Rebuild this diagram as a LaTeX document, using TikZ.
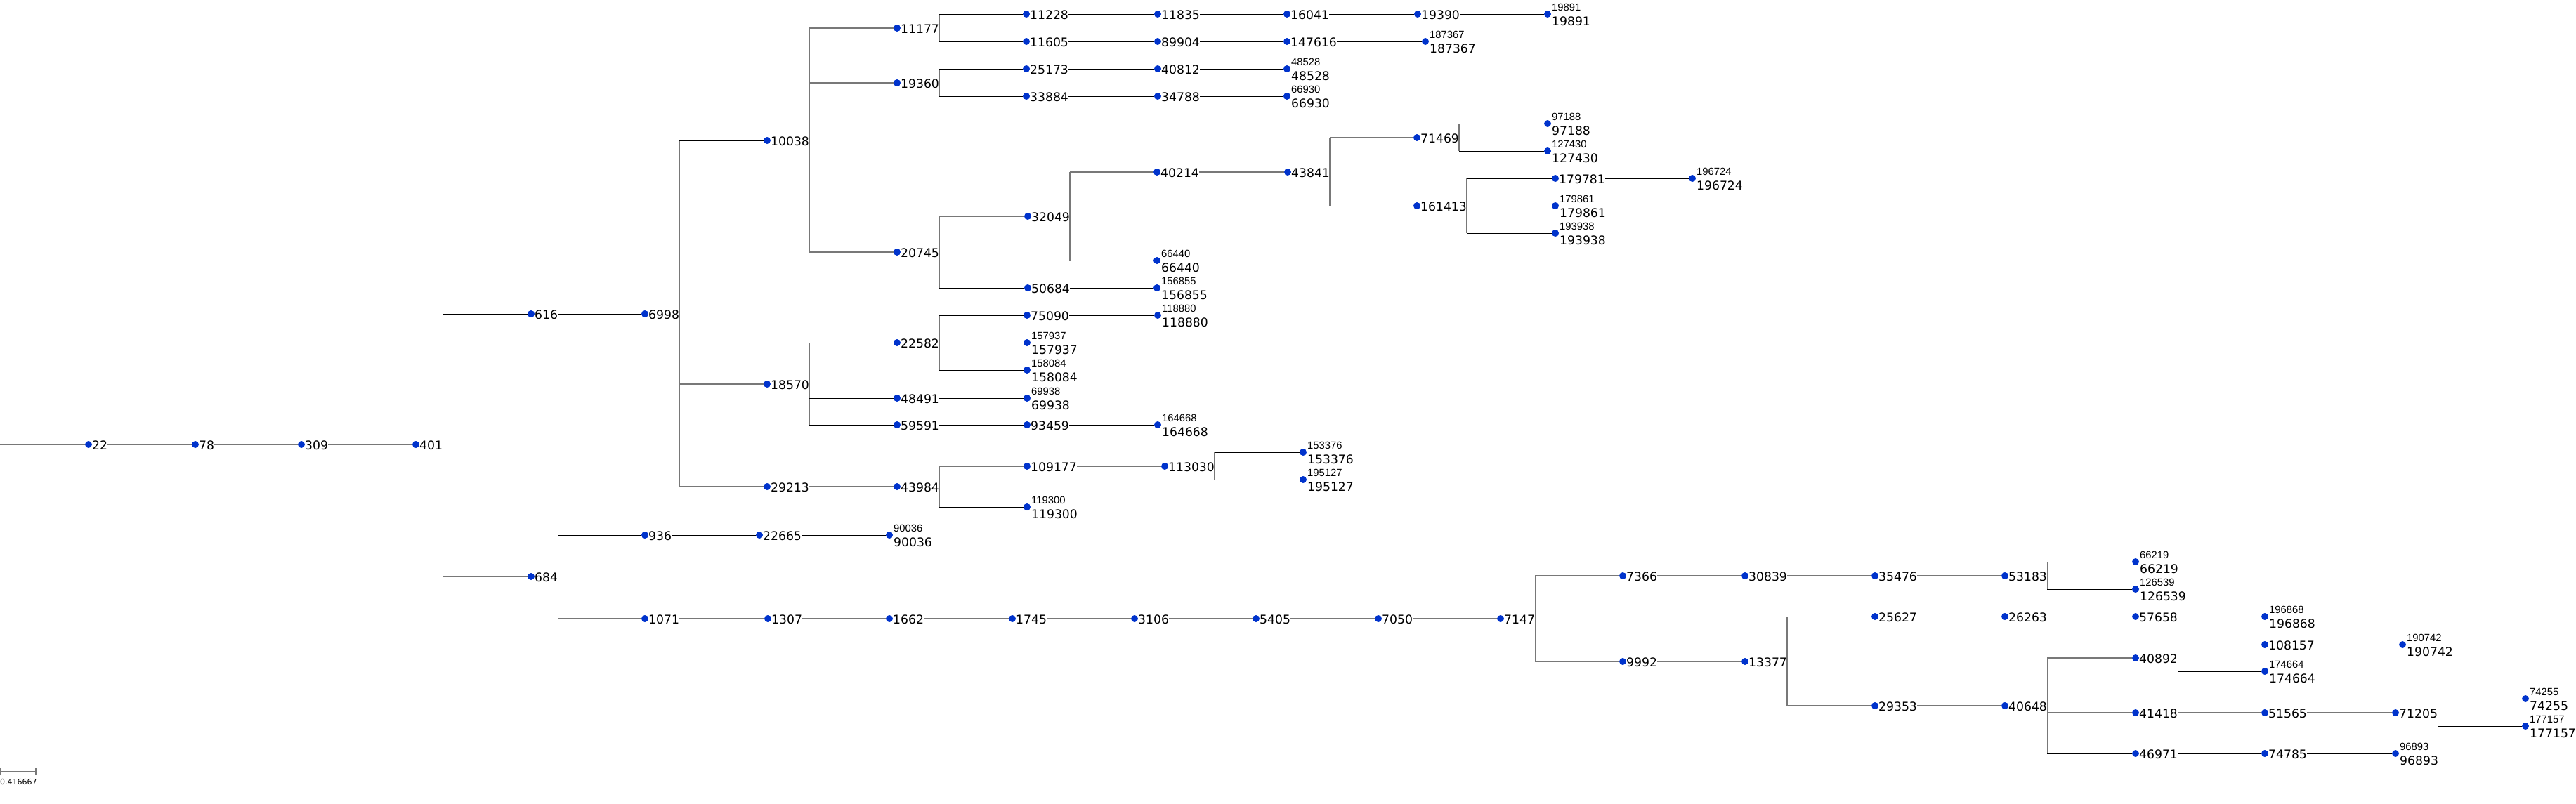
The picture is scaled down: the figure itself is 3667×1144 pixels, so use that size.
\documentclass[tikz,border=0pt]{standalone}
\usepackage{fontspec}
\setmainfont{DejaVu Sans}
\newfontfamily\lsfont{Liberation Sans}
\definecolor{dotblue}{RGB}{0,51,204}
\definecolor{linegray}{RGB}{120,120,120}
\newcommand\innode[3]{\node[dot] (n#1) at (#2,#3) {}; \node[lab] (t#1) at (#2+5,#3+7.5) {#1};}
\newcommand\lfnode[3]{\node[dot] (n#1) at (#2,#3) {}; \node[slab] (s#1) at (#2+6,#3-5) {#1}; \node[lab] (t#1) at (#2+6,#3+16.5) {#1};}
\newcommand\conn[3]{\draw[#1] (t#2.east |- n#3) -- (n#3);}
\newcommand\vbar[3]{\draw[vl] (t#1.east |- n#2) -- (t#1.east |- n#3);}
\begin{document}
\begin{tikzpicture}[x=1pt,y=-1pt,
 dot/.style={circle,fill=dotblue,inner sep=0,minimum size=10pt},
 lab/.style={anchor=base west,inner sep=0,font=\fontsize{17.2}{17.2}\selectfont},
 slab/.style={anchor=base west,inner sep=0,font=\lsfont\fontsize{14.8}{14.8}\selectfont},
 gl/.style={draw=linegray,line width=1.7pt},
 bl/.style={draw=black,line width=0.9pt},
 vl/.style={draw=linegray,line width=1.3pt}]
\useasboundingbox (0,0) rectangle (3667,1144);
% ---------- nodes ----------
\coordinate (start) at (0,633);
\innode{22}{126}{633}
\innode{78}{278}{633}
\innode{309}{429}{633}
\innode{401}{592}{633}
\innode{616}{756}{447}
\innode{684}{756}{821}
\innode{6998}{918}{447}
\innode{10038}{1092}{200}
\innode{18570}{1092}{547}
\innode{29213}{1092}{693}
\innode{11177}{1277}{40}
\innode{19360}{1277}{118}
\innode{20745}{1277}{359}
\innode{22582}{1277}{488}
\innode{48491}{1277}{567}
\innode{59591}{1277}{605}
\innode{43984}{1277}{693}
\innode{11228}{1461}{20}
\innode{11605}{1461}{59}
\innode{11835}{1648}{20}
\innode{89904}{1648}{59}
\innode{16041}{1832}{20}
\innode{147616}{1832}{59}
\innode{19390}{2018}{20}
\lfnode{187367}{2029}{59}
\lfnode{19891}{2203}{20}
\innode{25173}{1461}{98}
\innode{33884}{1461}{137}
\innode{40812}{1648}{98}
\innode{34788}{1648}{137}
\lfnode{48528}{1832}{98}
\lfnode{66930}{1832}{137}
\innode{32049}{1463}{308}
\innode{50684}{1463}{410}
\innode{40214}{1647}{245}
\lfnode{66440}{1647}{371}
\innode{43841}{1833}{245}
\innode{71469}{2017}{196}
\innode{161413}{2017}{293}
\lfnode{97188}{2203}{176}
\lfnode{127430}{2203}{215}
\innode{179781}{2214}{254}
\lfnode{179861}{2214}{293}
\lfnode{193938}{2214}{332}
\lfnode{196724}{2409}{254}
\lfnode{156855}{1647}{410}
\innode{75090}{1462}{449}
\lfnode{157937}{1462}{488}
\lfnode{158084}{1462}{527}
\lfnode{118880}{1648}{449}
\lfnode{69938}{1462}{567}
\innode{93459}{1462}{605}
\lfnode{164668}{1648}{605}
\innode{109177}{1462}{664}
\lfnode{119300}{1462}{722}
\innode{113030}{1658}{664}
\lfnode{153376}{1855}{644}
\lfnode{195127}{1855}{683}
\innode{936}{918}{762}
\innode{22665}{1081}{762}
\lfnode{90036}{1266}{762}
\innode{1071}{918}{881}
\innode{1307}{1093}{881}
\innode{1662}{1266}{881}
\innode{1745}{1441}{881}
\innode{3106}{1615}{881}
\innode{5405}{1788}{881}
\innode{7050}{1962}{881}
\innode{7147}{2136}{881}
\innode{7366}{2310}{820}
\innode{30839}{2484}{820}
\innode{35476}{2669}{820}
\innode{53183}{2854}{820}
\lfnode{66219}{3040}{800}
\lfnode{126539}{3040}{839}
\innode{9992}{2310}{942}
\innode{13377}{2484}{942}
\innode{25627}{2669}{878}
\innode{26263}{2854}{878}
\innode{57658}{3040}{878}
\lfnode{196868}{3224}{878}
\innode{29353}{2669}{1005}
\innode{40648}{2854}{1005}
\innode{40892}{3040}{937}
\innode{108157}{3224}{918}
\lfnode{190742}{3420}{918}
\lfnode{174664}{3224}{956}
\innode{41418}{3040}{1015}
\innode{51565}{3224}{1015}
\innode{71205}{3410}{1015}
\lfnode{74255}{3595}{995}
\lfnode{177157}{3595}{1034}
\innode{46971}{3040}{1073}
\innode{74785}{3224}{1073}
\lfnode{96893}{3410}{1073}
% ---------- vertical bars ----------
\vbar{401}{616}{684}
\vbar{6998}{10038}{29213}
\vbar{10038}{11177}{20745}
\vbar{11177}{11228}{11605}
\vbar{19360}{25173}{33884}
\vbar{20745}{32049}{50684}
\vbar{32049}{40214}{66440}
\vbar{43841}{71469}{161413}
\vbar{71469}{97188}{127430}
\vbar{161413}{179781}{193938}
\vbar{18570}{22582}{59591}
\vbar{22582}{75090}{158084}
\vbar{43984}{109177}{119300}
\vbar{113030}{153376}{195127}
\vbar{684}{936}{1071}
\vbar{7147}{7366}{9992}
\vbar{53183}{66219}{126539}
\vbar{13377}{25627}{29353}
\vbar{40648}{40892}{46971}
\vbar{40892}{108157}{174664}
\vbar{71205}{74255}{177157}
% ---------- horizontal connectors ----------
\draw[gl] (start) -- (n22);
\conn{gl}{22}{78}
\conn{gl}{78}{309}
\conn{gl}{309}{401}
\conn{bl}{401}{616}
\conn{gl}{401}{684}
\conn{bl}{616}{6998}
\conn{bl}{6998}{10038}
\conn{gl}{6998}{18570}
\conn{gl}{6998}{29213}
\conn{gl}{10038}{11177}
\conn{gl}{10038}{19360}
\conn{gl}{10038}{20745}
\conn{bl}{11177}{11228}
\conn{bl}{11177}{11605}
\conn{bl}{11228}{11835}
\conn{bl}{11835}{16041}
\conn{bl}{16041}{19390}
\conn{bl}{19390}{19891}
\conn{bl}{11605}{89904}
\conn{bl}{89904}{147616}
\conn{bl}{147616}{187367}
\conn{bl}{19360}{25173}
\conn{bl}{19360}{33884}
\conn{bl}{25173}{40812}
\conn{bl}{40812}{48528}
\conn{bl}{33884}{34788}
\conn{bl}{34788}{66930}
\conn{gl}{20745}{32049}
\conn{bl}{20745}{50684}
\conn{bl}{50684}{156855}
\conn{gl}{32049}{40214}
\conn{bl}{32049}{66440}
\conn{gl}{40214}{43841}
\conn{gl}{43841}{71469}
\conn{bl}{43841}{161413}
\conn{bl}{71469}{97188}
\conn{bl}{71469}{127430}
\conn{bl}{161413}{179781}
\conn{bl}{161413}{179861}
\conn{bl}{161413}{193938}
\conn{bl}{179781}{196724}
\conn{bl}{18570}{22582}
\conn{bl}{18570}{48491}
\conn{bl}{18570}{59591}
\conn{bl}{22582}{75090}
\conn{bl}{22582}{157937}
\conn{bl}{22582}{158084}
\conn{bl}{75090}{118880}
\conn{bl}{48491}{69938}
\conn{bl}{59591}{93459}
\conn{bl}{93459}{164668}
\conn{gl}{29213}{43984}
\conn{gl}{43984}{109177}
\conn{bl}{43984}{119300}
\conn{gl}{109177}{113030}
\conn{bl}{113030}{153376}
\conn{bl}{113030}{195127}
\conn{bl}{684}{936}
\conn{gl}{684}{1071}
\conn{bl}{936}{22665}
\conn{bl}{22665}{90036}
\conn{gl}{1071}{1307}
\conn{gl}{1307}{1662}
\conn{gl}{1662}{1745}
\conn{gl}{1745}{3106}
\conn{gl}{3106}{5405}
\conn{gl}{5405}{7050}
\conn{gl}{7050}{7147}
\conn{gl}{7147}{7366}
\conn{gl}{7147}{9992}
\conn{gl}{7366}{30839}
\conn{gl}{30839}{35476}
\conn{gl}{35476}{53183}
\conn{bl}{53183}{66219}
\conn{bl}{53183}{126539}
\conn{gl}{9992}{13377}
\conn{bl}{13377}{25627}
\conn{gl}{13377}{29353}
\conn{bl}{25627}{26263}
\conn{bl}{26263}{57658}
\conn{bl}{57658}{196868}
\conn{gl}{29353}{40648}
\conn{gl}{40648}{40892}
\conn{gl}{40648}{41418}
\conn{bl}{40648}{46971}
\conn{bl}{40892}{108157}
\conn{bl}{40892}{174664}
\conn{bl}{108157}{190742}
\conn{gl}{41418}{51565}
\conn{gl}{51565}{71205}
\conn{bl}{71205}{74255}
\conn{bl}{71205}{177157}
\conn{bl}{46971}{74785}
\conn{bl}{74785}{96893}
% ---------- scale bar ----------
\coordinate (sbA) at (1,1099);
\coordinate (sbB) at (51,1099);
\draw[draw=linegray,line width=2pt] (sbA) -- (sbB);
\draw[draw=linegray,line width=1.5pt] ([yshift=-5pt]sbA) -- ([yshift=5pt]sbA);
\draw[draw=linegray,line width=1.5pt] ([yshift=-5pt]sbB) -- ([yshift=5pt]sbB);
\node[anchor=base west,inner sep=0,font=\fontsize{11}{11}\selectfont] (sbtext) at (0,1117) {0.416667};
\end{tikzpicture}
\end{document}
